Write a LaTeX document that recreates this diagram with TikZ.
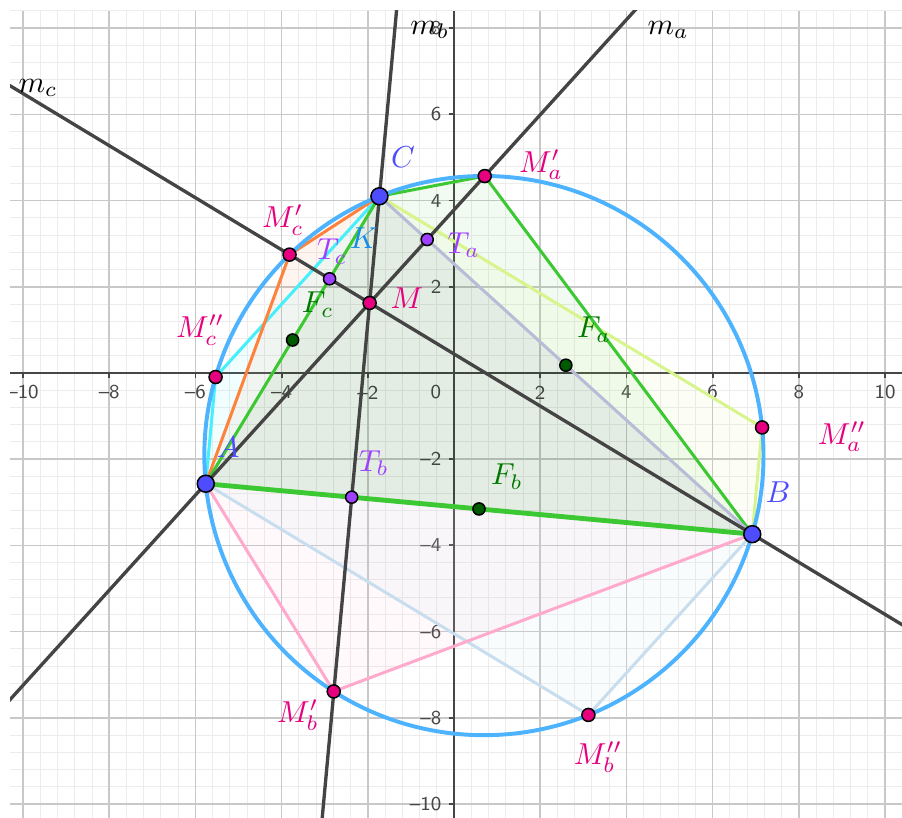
\documentclass[tikz,border=0pt]{standalone}
\usepackage{amsmath}
\usepackage{xcolor}
\usepackage{tikz}
\usetikzlibrary{calc}
\definecolor{gridmajor}{RGB}{200,200,200}
\definecolor{gridminor}{RGB}{236,236,236}
\definecolor{axiscol}{RGB}{70,70,70}
\definecolor{altcol}{RGB}{68,68,68}
\definecolor{circcol}{RGB}{77,179,255}
\definecolor{kcol}{RGB}{21,140,230}
\definecolor{ptblue}{RGB}{77,77,255}
\definecolor{ptpink}{RGB}{230,0,128}
\definecolor{ptpurple}{RGB}{160,64,255}
\definecolor{ptgreen}{RGB}{0,90,0}
\definecolor{lblgreen}{RGB}{0,120,0}
\definecolor{edgegreen}{RGB}{60,200,50}
\definecolor{edgelime}{RGB}{215,245,140}
\definecolor{edgelav}{RGB}{185,188,215}
\definecolor{edgepink}{RGB}{255,170,205}
\definecolor{edgesky}{RGB}{200,222,238}
\definecolor{edgeorange}{RGB}{255,130,60}
\definecolor{edgecyan}{RGB}{70,240,250}
\tikzset{
  seg/.style={line width=1pt},
  alt/.style={altcol, line width=1.1pt},
  pnt/.style={circle, draw=black, line width=0.5pt, inner sep=0pt, minimum size=4.3pt},
  vtx/.style={pnt, fill=ptblue, minimum size=5.6pt},
  ticklbl/.style={font=\sffamily\fontsize{6.5}{7}\selectfont, text=axiscol, inner sep=1pt}
}

\begin{document}
\begin{tikzpicture}[scale=0.5]
\useasboundingbox (-10.534,-10.325) rectangle (10.394,8.654);
\coordinate (A) at (-5.76,-2.57);
\coordinate (B) at (6.92,-3.74);
\coordinate (C) at (-1.73,4.10);
\coordinate (M) at (-1.958,1.624);
\coordinate (O) at (0.694,-1.917);
\coordinate (Ta) at ($(B)!(A)!(C)$);
\coordinate (Tb) at ($(A)!(C)!(B)$);
\coordinate (Tc) at ($(A)!(B)!(C)$);
\coordinate (Fa) at ($(B)!0.5!(C)$);
\coordinate (Fb) at ($(A)!0.5!(B)$);
\coordinate (Fc) at ($(A)!0.5!(C)$);
\coordinate (Ma1) at ($(M)!2!(Ta)$);
\coordinate (Mb1) at ($(M)!2!(Tb)$);
\coordinate (Mc1) at ($(M)!2!(Tc)$);
\coordinate (Ma2) at ($(M)!2!(Fa)$);
\coordinate (Mb2) at ($(M)!2!(Fb)$);
\coordinate (Mc2) at ($(M)!2!(Fc)$);
\begin{scope}
\clip (-10.30,-10.325) rectangle (10.394,8.40);
\draw[gridminor, line width=0.3pt, step=0.4] (-10.4,-10.4) grid (10.4,8.4);
\draw[gridmajor, line width=0.5pt, step=2] (-10.4,-10.4) grid (10.4,8.4);
\draw[axiscol, line width=0.6pt] (-10.30,0) -- (10.394,0);
\draw[axiscol, line width=0.6pt] (0,-10.325) -- (0,8.40);
\foreach \t in {-10,-8,-6,-4,-2,2,4,6,8,10} \draw[axiscol, line width=0.6pt] (\t,0) -- (\t,-0.12);
\foreach \t in {-10,-8,-6,-4,-2,2,4,6,8} \draw[axiscol, line width=0.6pt] (0,\t) -- (-0.12,\t);
\foreach \x/\t in {-10/--10,-8/--8,-6/--6,-4/--4,-2/--2,2/2,4/4,6/6,8/8,10/10}
  \node[ticklbl] (xt\x) at (\x,-0.45) {\t};
\node[ticklbl] (xt0) at (-0.42,-0.45) {0};
\foreach \y/\t in {8/8,6/6,4/4,2/2,-2/--2,-4/--4,-6/--6,-8/--8,-10/--10}
  \node[ticklbl, anchor=east] (yt\y) at (-0.21,\y) {\t};
\fill[ptgreen, fill opacity=0.11] (A) -- (B) -- (C) -- cycle;
\fill[edgegreen, fill opacity=0.07] (C) -- (Ma1) -- (B) -- cycle;
\fill[edgelime, fill opacity=0.08] (C) -- (Ma2) -- (B) -- cycle;
\fill[edgepink, fill opacity=0.07] (A) -- (Mb1) -- (B) -- cycle;
\fill[edgesky, fill opacity=0.1] (A) -- (Mb2) -- (B) -- cycle;
\fill[edgeorange, fill opacity=0.08] (A) -- (Mc1) -- (C) -- cycle;
\fill[edgecyan, fill opacity=0.08] (A) -- (Mc2) -- (C) -- cycle;
\draw[seg, edgelime] (C) -- (Ma2) -- (B);
\draw[seg, edgesky] (A) -- (Mb2) -- (B);
\draw[seg, edgepink] (A) -- (Mb1) -- (B);
\draw[seg, edgecyan] (A) -- (Mc2) -- (C);
\draw[seg, edgeorange] (A) -- (Mc1) -- (C);
\draw[seg, edgegreen] (C) -- (Ma1) -- (B);
\draw[seg, edgelav] (B) -- (C);
\draw[seg, edgegreen] (A) -- (C);
\draw[edgegreen, line width=1.6pt] (A) -- (B);
\draw[circcol, line width=1.3pt] (O) circle (6.487);
\draw[alt] ($(A)!-3!(M)$) -- ($(A)!4!(M)$);
\draw[alt] ($(C)!-3!(M)$) -- ($(C)!7!(M)$);
\draw[alt] ($(B)!-1!(M)$) -- ($(B)!2.5!(M)$);
\end{scope}
\foreach \p in {Ta,Tb,Tc} \node[pnt, fill=ptpurple, minimum size=4pt] (p\p) at (\p) {};
\foreach \p in {Fa,Fb,Fc} \node[pnt, fill=ptgreen, minimum size=4pt] (p\p) at (\p) {};
\foreach \p in {M,Ma1,Mb1,Mc1,Ma2,Mb2,Mc2} \node[pnt, fill=ptpink] (p\p) at (\p) {};
\foreach \p in {A,B,C} \node[vtx] (p\p) at (\p) {};
\node (lma) at (4.97,7.96) {$m_a$};
\node (lmb) at (-0.56,7.96) {$m_b$};
\node (lmc) at (-9.65,6.61) {$m_c$};
\node[text=ptblue] (lA) at (-5.24,-1.72) {$A$};
\node[text=ptblue] (lB) at (7.52,-2.76) {$B$};
\node[text=ptblue] (lC) at (-1.18,5.01) {$C$};
\node[text=kcol] (lK) at (-2.09,3.13) {$K$};
\node[text=ptpink] (lM) at (-1.09,1.74) {$M$};
\node[text=ptpurple] (lTa) at (0.23,2.97) {$T_a$};
\node[text=ptpurple] (lTb) at (-1.86,-2.09) {$T_b$};
\node[text=ptpurple] (lTc) at (-2.83,2.81) {$T_c$};
\node[text=lblgreen] (lFa) at (3.25,1.0) {$F_a$};
\node[text=lblgreen] (lFb) at (1.23,-2.41) {$F_b$};
\node[text=lblgreen] (lFc) at (-3.16,1.58) {$F_c$};
\node[text=ptpink] (lMa1) at (2.02,4.83) {$M'_a$};
\node[text=ptpink] (lMb1) at (-3.62,-7.94) {$M'_b$};
\node[text=ptpink] (lMc1) at (-3.97,3.55) {$M'_c$};
\node[text=ptpink] (lMa2) at (9.0,-1.48) {$M''_a$};
\node[text=ptpink] (lMb2) at (3.34,-8.91) {$M''_b$};
\node[text=ptpink] (lMc2) at (-5.89,1.0) {$M''_c$};
\end{tikzpicture}
\end{document}
